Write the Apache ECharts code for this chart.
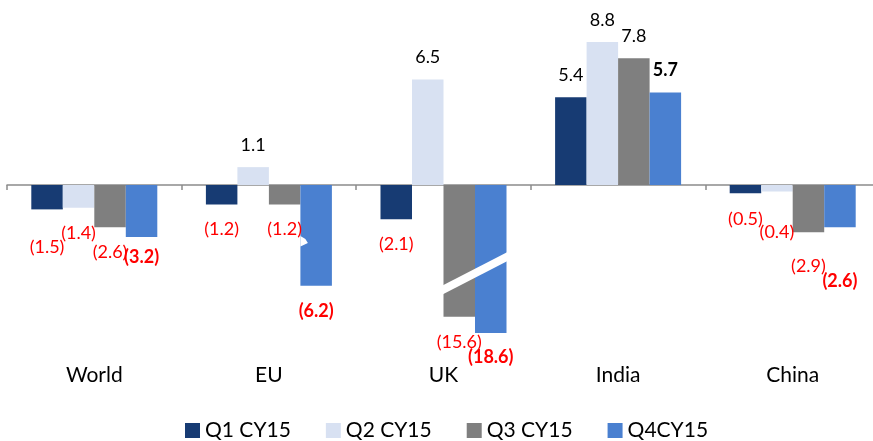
<!DOCTYPE html>
<html>
<head>
<meta charset="utf-8">
<script src="https://cdn.jsdelivr.net/npm/echarts@6/dist/echarts.min.js"></script>
<style>
  html, body { margin: 0; padding: 0; background: #fff; }
  #chart { width: 873px; height: 441px; }
</style>
</head>
<body>
<div id="chart"></div>
<script>
const categories = ['World', 'EU', 'UK', 'India', 'China']
const seriesNames = ['Q1 CY15', 'Q2 CY15', 'Q3 CY15', 'Q4CY15']
const q1 = [-1.5, -1.2, -2.1, 5.4, -0.5]
const q2 = [-1.4, 1.1, 6.5, 8.8, -0.4]
const q3 = [-2.6, -1.2, -15.6, 7.8, -2.9]
const q4 = [-3.2, -6.2, -18.6, 5.7, -2.6]

const colors = ['#173B73', '#D8E1F2', '#7F7F7F', '#4A80D0']
const FONT = 'Lato'
const BAR_W = 31.5

// extra px pushed below some negative labels, as placed by hand in the original
const labelNudge = [
  [13, 0, 0, 0, 1],
  [0, 0, 0, 0, 16],
  [0, 0, 1, 0, 9],
  [-5, 0, -1, 0, 29]
]

const chart = echarts.init(document.getElementById('chart'))

function buildSeries (values, idx) {
  return {
    name: seriesNames[idx],
    type: 'bar',
    barWidth: BAR_W,
    barGap: '0%',
    itemStyle: { color: colors[idx] },
    data: values.map((v, i) => ({
      value: v,
      label: {
        show: true,
        position: v < 0 ? 'bottom' : 'top',
        distance: v < 0 ? 16 + labelNudge[idx][i] : 13,
        color: v < 0 ? '#FF0000' : '#000000',
        fontFamily: FONT,
        fontSize: 18,
        fontWeight: idx === 3 ? 'bold' : 'normal',
        formatter: v < 0 ? '(' + Math.abs(v).toFixed(1) + ')' : v.toFixed(1)
      }
    }))
  }
}

const option = {
  animation: false,
  color: colors,
  grid: { left: 7, right: -7, top: 22.5, bottom: 101.6, outerBoundsMode: 'none', containLabel: false },
  legend: {
    data: seriesNames,
    left: 185,
    top: 420,
    padding: 0,
    icon: 'rect',
    itemWidth: 15,
    itemHeight: 15,
    itemGap: 35,
    textStyle: { fontFamily: FONT, fontSize: 21, color: '#000' }
  },
  xAxis: {
    type: 'category',
    data: categories,
    axisLine: { onZero: true, lineStyle: { color: '#8C8C8C', width: 1.5 } },
    axisTick: { show: true, length: 5, lineStyle: { color: '#8C8C8C', width: 1.5 } },
    axisLabel: { margin: 25, fontFamily: FONT, fontSize: 21, color: '#000' },
    splitLine: { show: false }
  },
  yAxis: {
    type: 'value',
    min: -19,
    max: 10,
    show: false,
    splitLine: { show: false },
    breaks: [
      { start: -14.5, end: -7, gap: 0 },
      { start: -18, end: -16, gap: 0 }
    ],
    breakArea: { show: false }
  },
  series: [q1, q2, q3, q4].map(buildSeries)
}

chart.setOption(option)

// white break marks drawn over the truncated bars
const ukX = chart.convertToPixel({ xAxisIndex: 0 }, 'UK')
const euX = chart.convertToPixel({ xAxisIndex: 0 }, 'EU')
const yL = chart.convertToPixel({ yAxisIndex: 0 }, -6.43)
const yR = chart.convertToPixel({ yAxisIndex: 0 }, -4.43)
const yEu = chart.convertToPixel({ yAxisIndex: 0 }, -3.5)
const ukL = ukX - 2
const ukR = ukX + 2 * BAR_W + 2
const slope = (yR - yL) / (2 * BAR_W)
const euL = euX + BAR_W

chart.setOption({
  graphic: [
    {
      type: 'polygon',
      z: 100,
      shape: {
        points: [
          [ukL, yL - 4.5 - 2 * slope], [ukR, yR - 4.5 + 2 * slope],
          [ukR, yR + 4.5 + 2 * slope], [ukL, yL + 4.5 - 2 * slope]
        ]
      },
      style: { fill: '#fff' }
    },
    {
      type: 'polygon',
      z: 100,
      shape: {
        points: [[euL, yEu - 6], [euL + 5, yEu - 3], [euL + 7.5, yEu + 1], [euL, yEu + 4.5]]
      },
      style: { fill: '#fff' }
    }
  ]
})
</script>
</body>
</html>
